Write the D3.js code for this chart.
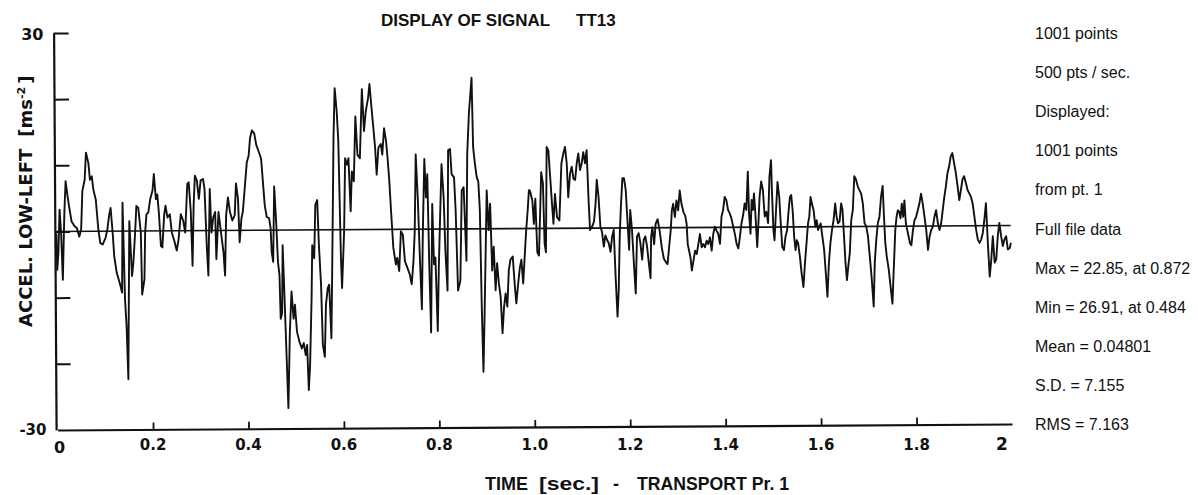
<!DOCTYPE html>
<html><head><meta charset="utf-8">
<script src="https://cdn.jsdelivr.net/npm/d3@7"></script>
<style>
html,body{margin:0;padding:0;background:#fff;}
svg{display:block;}
</style></head>
<body>
<svg id="chart" width="1198" height="495"></svg>
<script>
// ---- DATA ----
const timeSec = [
0.000,0.0014,0.004,0.007,0.010,0.013,0.017,0.020,0.024,0.027,0.032,0.038,0.043,0.048,0.052,0.055,0.060,0.063,0.068,0.071,
0.075,0.078,0.083,0.088,0.092,0.097,0.103,0.107,0.111,0.114,0.118,0.121,0.126,0.132,0.137,0.139,0.143,0.146,0.149,0.151,
0.153,0.158,0.161,0.165,0.168,0.172,0.177,0.179,0.184,0.186,0.189,0.193,0.197,0.202,0.205,0.209,0.212,0.215,0.219,0.222,
0.226,0.229,0.233,0.238,0.242,0.247,0.252,0.256,0.261,0.266,0.270,0.275,0.278,0.282,0.285,0.288,0.291,0.295,0.299,0.303,
0.308,0.311,0.315,0.318,0.322,0.325,0.329,0.333,0.335,0.340,0.345,0.350,0.353,0.356,0.360,0.364,0.369,0.374,0.377,0.381,
0.384,0.388,0.391,0.395,0.400,0.404,0.407,0.411,0.416,0.420,0.425,0.430,0.433,0.437,0.441,0.446,0.449,0.451,0.454,0.457,
0.461,0.464,0.467,0.469,0.472,0.474,0.478,0.481,0.484,0.488,0.492,0.496,0.499,0.503,0.508,0.513,0.517,0.521,0.524,0.527,
0.530,0.534,0.536,0.540,0.543,0.547,0.550,0.554,0.557,0.561,0.564,0.568,0.571,0.575,0.577,0.580,0.582,0.585,0.589,0.592,
0.596,0.598,0.603,0.606,0.610,0.613,0.617,0.620,0.624,0.628,0.632,0.637,0.642,0.646,0.650,0.655,0.658,0.662,0.665,0.669,
0.672,0.676,0.681,0.684,0.688,0.692,0.695,0.698,0.702,0.706,0.711,0.714,0.718,0.722,0.726,0.730,0.735,0.740,0.744,0.748,
0.751,0.754,0.758,0.761,0.765,0.768,0.772,0.775,0.778,0.781,0.784,0.788,0.791,0.794,0.798,0.801,0.805,0.808,0.812,0.815,
0.819,0.822,0.826,0.829,0.834,0.837,0.841,0.846,0.850,0.854,0.859,0.862,0.866,0.872,
0.8744,0.8779,0.8814,0.8849,0.8877,0.8905,0.8932,0.8960,0.8988,0.9023,0.9058,0.9093,0.9128,0.9163,0.9197,0.9232,0.9267,0.9302,
0.9337,0.9372,0.9406,0.9441,0.9476,0.9511,0.9560,0.9602,0.9630,0.9671,0.9706,0.9741,0.9776,0.9811,0.9846,0.9880,0.9908,
0.9930,0.9979,1.0007,1.0041,1.0076,1.0111,1.0146,1.0167,1.0202,1.0230,1.0257,1.0285,1.0320,1.0355,1.0390,1.0418,1.0453,1.0494,
1.0543,1.0592,1.0634,1.0669,1.0704,1.0731,1.0773,1.0808,1.0843,1.0878,1.0913,1.0947,1.0982,1.1017,1.1052,1.1087,1.1122,1.1157,
1.1184,1.1226,1.1268,1.1303,1.1331,1.1366,1.1401,1.1435,1.1470,1.1505,1.1540,1.1575,1.1610,1.1645,1.1680,1.1714,1.1749,1.1777,
1.1805,1.1833,1.1868,1.1902,1.1937,1.1972,1.2000,1.2028,1.2063,1.2098,1.2133,1.2167,1.2202,1.2237,1.2272,1.2307,1.2342,1.2376,
1.2411,1.2446,
1.2462,1.2490,1.2525,1.2559,1.2601,1.2643,1.2685,1.2727,1.2768,1.2803,1.2838,1.2873,1.2901,1.2929,1.2964,1.2998,1.3033,1.3068,
1.3103,1.3145,1.3180,1.3208,1.3229,1.3257,1.3284,1.3312,1.3347,1.3382,1.3417,1.3452,1.3486,1.3521,1.3556,1.3591,1.3626,1.3661,
1.3696,1.3730,1.3765,1.3800,1.3835,1.3870,1.3905,1.3940,1.3974,1.4009,1.4044,1.4079,1.4114,1.4149,1.4184,1.4218,1.4253,1.4288,
1.4323,1.4358,1.4393,1.4427,1.4462,1.4497,1.4518,1.4546,1.4574,1.4602,1.4623,1.4650,1.4685,1.4713,1.4741,1.4776,1.4811,1.4846,
1.4881,1.4916,1.4950,1.4985,
1.5000,1.5027,1.5048,1.5076,1.5118,1.5153,1.5181,1.5209,1.5244,1.5278,1.5313,1.5348,1.5376,1.5404,1.5432,1.5460,1.5488,1.5515,
1.5543,1.5578,1.5613,1.5648,1.5683,1.5718,1.5752,1.5780,1.5808,1.5836,1.5871,1.5906,1.5934,1.5962,1.5989,1.6017,1.6052,1.6087,
1.6115,1.6150,1.6185,1.6219,1.6254,1.6289,1.6324,1.6352,1.6380,1.6415,1.6449,1.6477,1.6505,1.6533,1.6561,1.6589,1.6624,1.6659,
1.6693,1.6728,1.6763,1.6798,1.6833,1.6868,1.6903,1.6937,1.6972,1.7007,1.7042,1.7077,1.7118,1.7146,1.7181,1.7216,1.7251,1.7286,
1.7321,1.7342,1.7369,1.7397,1.7439,1.7481,
1.7511,1.7532,1.7552,1.7580,1.7608,1.7636,1.7664,1.7692,1.7720,1.7748,1.7775,1.7803,1.7831,1.7859,1.7887,1.7915,1.7950,1.7985,
1.8019,1.8054,1.8089,1.8124,1.8159,1.8194,1.8229,1.8263,1.8298,1.8333,1.8368,1.8403,1.8438,1.8473,1.8507,1.8542,1.8577,1.8612,
1.8647,1.8682,1.8717,1.8751,1.8786,1.8821,1.8856,1.8891,1.8926,1.8960,1.8995,1.9030,1.9065,1.9100,1.9135,1.9170,1.9204,1.9239,
1.9274,1.9309,1.9344,1.9379,1.9414,1.9448,1.9483,1.9518,1.9553,1.9588,1.9623,1.9658,1.9692,1.9727,1.9762,1.9797,1.9832,1.9867,
1.9902,1.9936,1.9978,2.000
];
const accel = [
-0.3,-5.8,-3.3,3.3,-0.3,-7.3,2.8,7.6,5.3,3.8,1.5,0.8,0.5,-0.8,0.3,6.1,7.8,11.9,10.3,7.8,
8.3,6.3,4.8,0.3,-1.8,-2.0,-1.0,0.3,2.5,3.5,-0.3,-3.8,-6.3,-7.8,-9.3,4.3,-10.3,-14.4,-22.4,-10.3,
1.5,-6.8,-4.8,-0.3,3.8,3.5,-0.3,-9.6,-7.3,-0.3,2.5,2.8,4.8,6.1,8.6,4.8,5.5,2.8,-2.3,-2.5,
2.3,3.8,2.0,2.5,-0.3,-1.5,-3.0,-1.3,2.5,1.5,-0.3,7.1,7.3,2.8,-5.3,3.8,8.3,7.6,4.8,7.6,
7.8,6.3,-2.3,-6.8,6.3,-0.3,2.0,2.8,-4.3,2.8,-0.3,-3.3,-6.8,2.3,5.0,2.8,1.5,2.3,7.1,4.8,
-1.8,1.8,2.8,6.1,10.3,11.3,13.9,15.1,14.6,12.9,11.9,10.8,7.8,3.8,2.0,1.8,0.3,-3.3,-4.8,6.6,
0.8,-4.8,-6.8,-13.4,-12.6,-2.3,-12.0,-19.4,-26.91,-15.4,-9.3,-13.4,-11.3,-15.4,-16.9,-17.9,-17.1,-18.9,-17.4,-24.2,
-20.4,-10.3,-2.3,-4.3,3.8,4.5,-2.3,-8.3,-17.4,-19.2,-11.3,-8.8,-8.3,-16.4,-8.3,4.8,13.9,21.4,17.9,13.4,
-4.3,-8.8,-0.3,10.8,9.8,10.8,2.8,8.8,7.3,17.1,11.3,10.8,21.2,14.9,17.9,19.9,22.0,18.4,15.9,12.4,
8.3,12.4,12.9,11.3,15.3,13.4,10.8,7.8,2.3,-2.8,-5.3,-4.3,-6.3,-0.3,-0.8,-4.8,-5.8,-6.8,-8.3,-4.8,
-0.3,11.3,4.3,-3.3,-12.1,-0.3,10.6,4.8,8.3,-5.3,-15.6,3.8,-5.3,-4.3,-15.4,-5.8,3.3,9.8,4.8,-3.3,
-9.3,11.9,12.1,8.3,7.8,2.8,-9.3,-7.8,5.8,6.3,-4.8,11.3,17.4,22.85,
12.4,9.9,7.9,7.1,2.8,-11.8,-21.6,-13.8,-5.2,5.8,-0.2,3.8,-6.3,-2.7,-9.3,-5.2,-8.3,-10.3,
-15.8,-11.8,-9.8,-11.8,-6.3,-4.7,-4.2,-8.8,-11.3,-8.3,-6.0,-4.7,-8.3,-4.2,-0.2,2.8,5.8,
5.7,4.2,0.7,4.5,-3.6,-4.1,3.7,8.5,6.8,-2.3,-3.6,12.3,11.8,7.8,3.7,0.7,5.2,1.7,
1.2,9.8,11.3,12.3,9.8,4.7,8.3,9.3,7.5,7.3,9.8,11.3,8.8,9.8,11.5,9.8,11.8,4.2,
-0.3,0.2,1.0,3.7,7.3,4.7,0.2,-0.6,-2.8,-1.1,-1.8,-2.3,-3.6,-1.3,-0.3,-7.4,-13.4,-9.4,
-1.3,3.2,7.5,7.5,5.7,0.7,-3.3,2.7,-0.3,-5.3,-9.9,-1.3,-0.8,-2.3,-4.8,-1.8,-1.3,-2.8,
-5.3,-7.6,
-1.5,0.1,-2.5,0.6,1.3,-0.5,-3.0,-4.7,-5.2,-5.5,-3.0,-0.5,2.6,3.6,1.6,4.1,2.6,5.6,
3.6,2.3,1.8,0.6,-2.5,-3.5,-4.5,-6.5,-5.0,-3.5,-4.0,-2.5,-1.0,-3.0,-2.5,-3.0,-2.0,-2.5,
-1.5,-3.5,-1.0,0.1,-0.5,-1.0,-2.5,1.6,2.6,4.6,4.1,2.6,2.1,1.3,0.1,-1.0,-2.5,-3.2,
-1.5,0.6,1.8,3.6,2.6,8.4,2.1,-1.0,4.1,2.6,5.1,2.1,-3.0,0.6,4.6,6.9,5.6,1.6,
2.3,0.6,7.6,10.1,
5.5,-0.5,-2.0,1.5,6.8,4.5,0.5,-3.0,-3.5,-1.5,-0.5,2.5,4.5,4.8,2.5,-1.5,-3.5,-2.0,
-2.5,-4.5,-7.1,-9.1,-5.5,-2.5,0.5,1.5,4.5,3.5,2.5,0.0,1.0,-0.5,0.0,0.5,-1.5,-3.5,
-6.6,-10.6,-5.5,-2.5,-0.5,1.0,3.5,1.5,0.5,0.8,3.5,2.5,-1.5,-5.5,-8.1,-6.1,-4.0,1.0,
2.5,7.6,7.1,6.1,5.5,5.0,3.5,0.5,0.0,-1.5,-4.5,-7.6,-12.1,-5.5,-2.0,0.5,1.5,4.5,
6.1,2.0,-2.5,-4.5,-6.6,-9.6,
-11.7,-8.2,-5.1,-0.6,1.4,2.4,2.2,1.2,3.4,1.4,3.9,0.4,-0.6,-1.6,-2.6,-2.9,-0.6,0.9,
1.4,2.4,3.4,4.9,3.4,1.4,-0.6,-3.6,-1.6,-0.6,-0.1,1.4,2.4,0.4,-0.6,0.4,2.4,4.4,
6.0,8.0,9.0,10.5,11.0,9.5,8.0,6.0,3.9,5.4,7.0,7.5,6.5,5.4,4.9,4.4,3.4,1.4,
-0.6,-2.1,-2.6,-2.1,-1.1,0.9,3.4,-2.6,-7.7,-5.1,-1.6,-5.6,-5.1,-1.6,0.4,-1.6,-3.1,-2.1,
-1.6,-3.6,-3.4,-2.6
];
const xTickValues = [0.2,0.4,0.6,0.8,1.0,1.2,1.4,1.6,1.8];
const xTickLabels = ["0.2","0.4","0.6","0.8","1.0","1.2","1.4","1.6","1.8"];
const xEndLabels = ["0","2"];
const yTickValues = [30,20,10,0,-10,-20];
const yEndLabels = ["30","-30"];
const titleParts = ["DISPLAY OF SIGNAL", "TT13"];
const xTitleParts = ["TIME", "[sec.]", "-", "TRANSPORT Pr. 1"];
const infoLines = ["1001 points","500 pts / sec.","Displayed:","1001 points","from pt. 1","Full file data",
  "Max = 22.85, at 0.872","Min = 26.91, at 0.484","Mean = 0.04801","S.D. = 7.155","RMS = 7.163"];

// ---- DRAWING ----
const svg = d3.select("#chart");
const BOLD = "'DejaVu Sans', sans-serif";
const REG = "'Liberation Sans', Arial, sans-serif";
const x = d3.scaleLinear().domain([0, 2]).range([57.6, 1012]);
const y = d3.scaleLinear().domain([-30, 30]).range([430, 33]);

const plot = svg.append("g").attr("transform", "rotate(-0.36,57.6,430)");

// y axis (ticks pointing inwards)
const yAxis = d3.axisRight(y).tickValues(yTickValues).tickSize(15).tickSizeOuter(0).tickFormat("");
const gy = plot.append("g").attr("transform", `translate(${x(0) - 1.5},0)`).call(yAxis);
gy.selectAll("path.domain").attr("stroke", "#111").attr("stroke-width", 2.2);
gy.selectAll(".tick line").attr("stroke", "#111").attr("stroke-width", 2);

// x axis (ticks pointing up)
const xAxis = d3.axisTop(x).tickValues(xTickValues).tickSize(7).tickSizeOuter(0).tickFormat("");
const gx = plot.append("g").attr("transform", `translate(0,${y(-30)})`).call(xAxis);
gx.selectAll("path.domain").attr("stroke", "#111").attr("stroke-width", 2.2);
gx.selectAll(".tick line").attr("stroke", "#111").attr("stroke-width", 1.8);

// zero line
plot.append("line")
  .attr("x1", x(0)).attr("x2", x(2)).attr("y1", y(0)).attr("y2", y(0))
  .attr("stroke", "#111").attr("stroke-width", 1.7);

// signal
const pts = timeSec.map((t, i) => ({t, v: accel[i]}));
const line = d3.line().x(d => x(d.t)).y(d => y(d.v));
plot.append("path").datum(pts)
  .attr("d", line).attr("fill", "none")
  .attr("stroke", "#111").attr("stroke-width", 1.9).attr("stroke-linejoin", "round");

// y end labels
svg.append("text").text(yEndLabels[0]).attr("x", 43.5).attr("y", 40)
  .attr("text-anchor", "end").attr("font-family", BOLD).attr("font-weight", "bold").attr("font-size", 16).attr("fill", "#111");
svg.append("text").text(yEndLabels[1]).attr("x", 46.5).attr("y", 435)
  .attr("text-anchor", "end").attr("font-family", BOLD).attr("font-weight", "bold").attr("font-size", 15).attr("fill", "#111");

// x tick labels
svg.append("g").selectAll("text").data(xTickValues).join("text")
  .attr("x", d => x(d)).attr("y", 450)
  .attr("text-anchor", "middle").attr("font-family", BOLD).attr("font-weight", "bold")
  .attr("font-size", 15).attr("fill", "#111")
  .text((d, i) => xTickLabels[i]);
svg.append("text").text(xEndLabels[0]).attr("x", x(0) + 2).attr("y", 453)
  .attr("text-anchor", "middle").attr("font-family", BOLD).attr("font-weight", "bold").attr("font-size", 16).attr("fill", "#111");
svg.append("text").text(xEndLabels[1]).attr("x", x(2) - 10).attr("y", 450)
  .attr("text-anchor", "middle").attr("font-family", BOLD).attr("font-weight", "bold").attr("font-size", 17).attr("fill", "#111");

// title
const tt = svg.append("text").attr("y", 26)
  .attr("font-family", REG).attr("font-weight", "bold").attr("font-size", 17).attr("fill", "#111");
tt.append("tspan").attr("x", 381).text(titleParts[0]);
tt.append("tspan").attr("x", 576).text(titleParts[1]);

// x axis title
const xt = svg.append("text").attr("y", 490).attr("font-family", REG).attr("font-weight", "bold")
  .attr("font-size", 18).attr("fill", "#111");
xt.append("tspan").attr("x", 485).text(xTitleParts[0]);
xt.append("tspan").attr("x", 539).attr("textLength", 60).attr("lengthAdjust", "spacingAndGlyphs").text(xTitleParts[1]);
xt.append("tspan").attr("x", 613).text(xTitleParts[2]);
xt.append("tspan").attr("x", 637).attr("textLength", 152).attr("lengthAdjust", "spacingAndGlyphs").text(xTitleParts[3]);

// y axis title
const yt = svg.append("text").attr("transform", "translate(32,327) rotate(-90)")
  .attr("font-family", BOLD).attr("font-weight", "bold").attr("font-size", 18).attr("fill", "#111");
yt.append("tspan").text("ACCEL. LOW-LEFT");
yt.append("tspan").attr("dx", 12).text("[ms");
yt.append("tspan").attr("dy", -7).attr("font-size", 11).text("-2");
yt.append("tspan").attr("dy", 7).attr("dx", 3).text("]");

// info column
svg.append("g").selectAll("text").data(infoLines).join("text")
  .attr("x", 1035).attr("y", (d, i) => 39 + i * 39.1)
  .attr("font-family", REG).attr("font-size", 16).attr("fill", "#111")
  .text(d => d);
</script>
</body></html>
